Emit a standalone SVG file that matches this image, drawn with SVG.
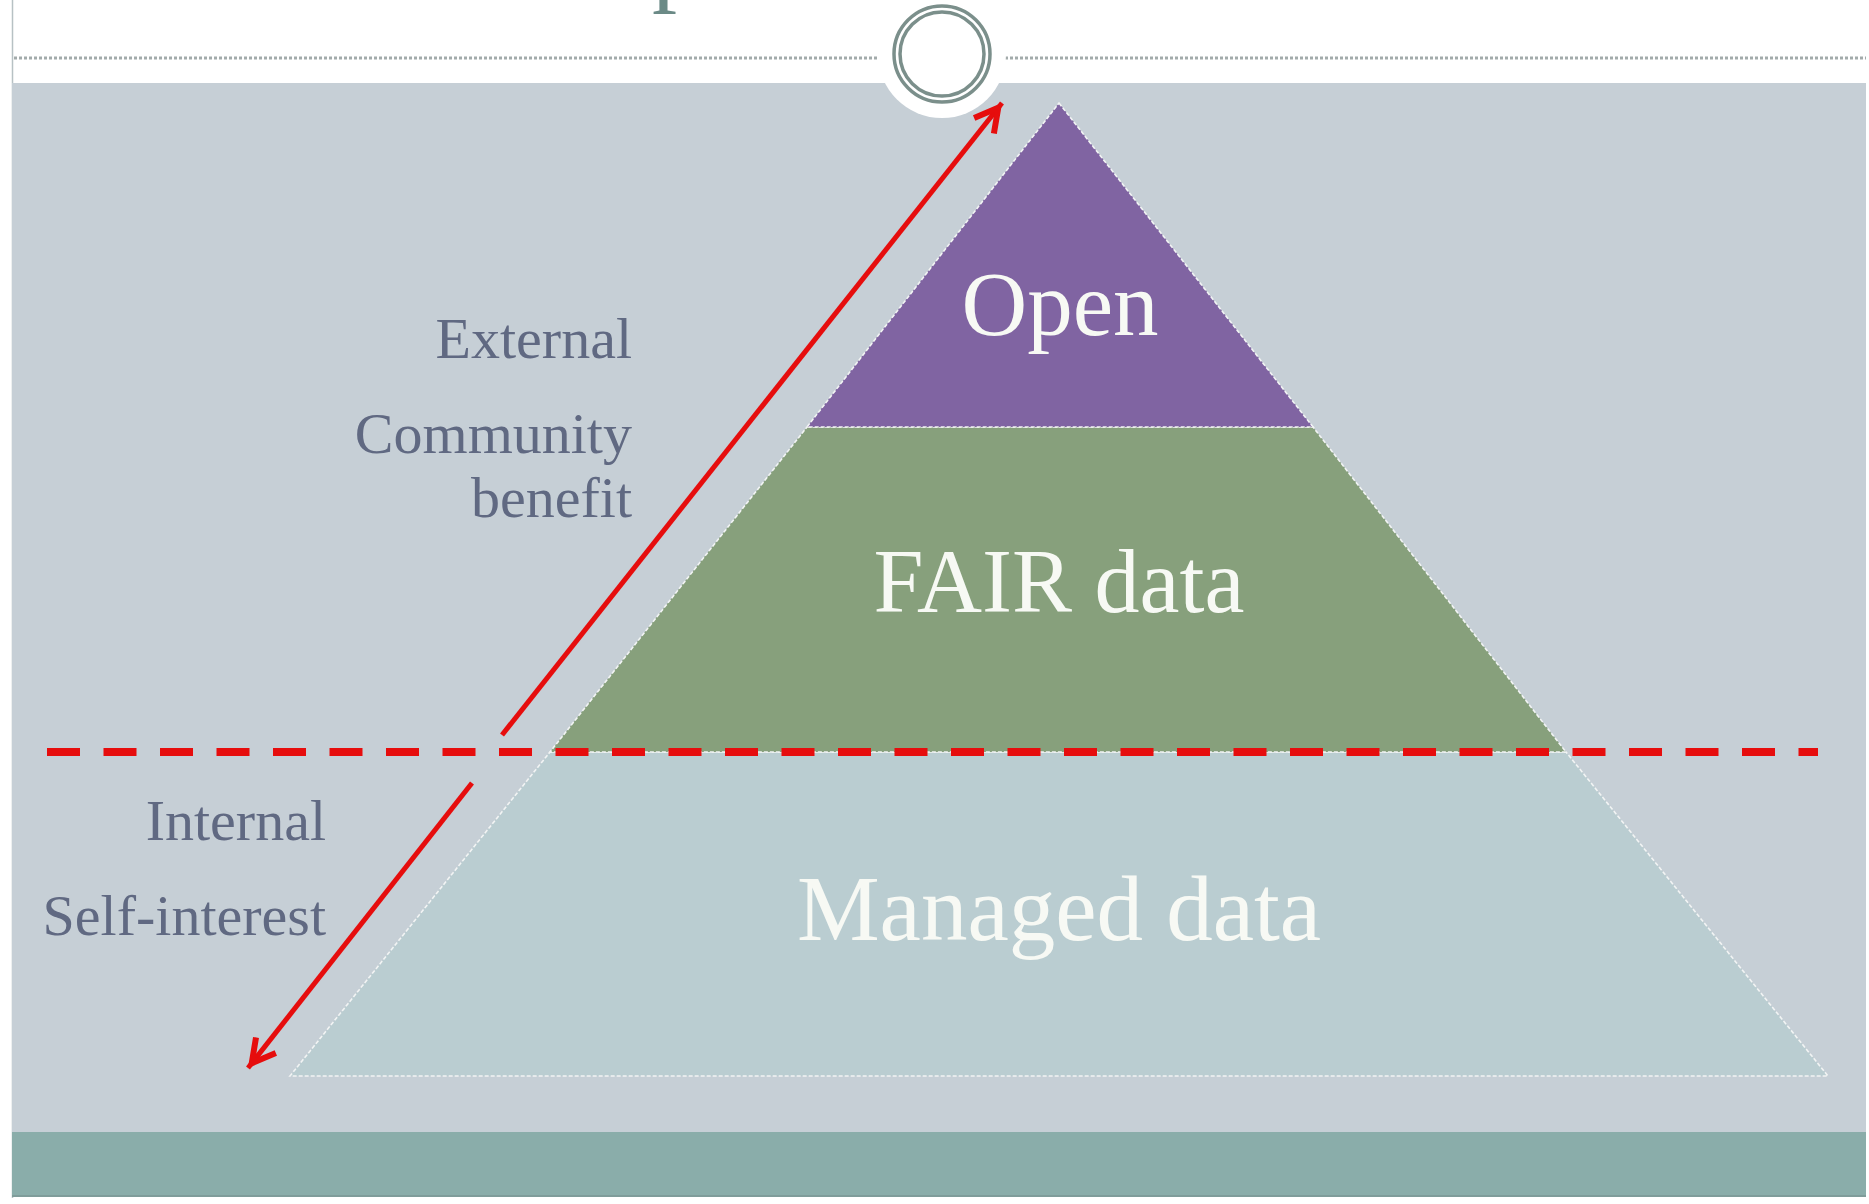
<svg xmlns="http://www.w3.org/2000/svg" width="1869" height="1204" viewBox="0 0 1869 1204">
  <style>
    .lbl { font-family: "Liberation Serif", "Times New Roman", serif; font-size: 58px; fill: #606982; text-anchor: end; }
    .tier { font-family: "Liberation Serif", "Times New Roman", serif; fill: #f7f9f4; text-anchor: middle; }
    .edge { stroke: #f2f4f4; stroke-width: 1.6; stroke-dasharray: 4 2; }
    .arrow { stroke: #e60d0d; stroke-width: 5; fill: none; }
    .rule { stroke: #a3abab; stroke-width: 3; stroke-dasharray: 3 2; }
  </style>
  <defs>
    <marker id="head" markerUnits="userSpaceOnUse" viewBox="-32 -20 44 40" markerWidth="44" markerHeight="40" refX="6" refY="0" orient="auto">
      <path d="M-23,-12.6 L0,0 L-23,12.6" fill="none" stroke="#e60d0d" stroke-width="6" stroke-linejoin="miter" stroke-miterlimit="10"/>
    </marker>
  </defs>

  <!-- page -->
  <rect x="0" y="0" width="1869" height="1204" fill="#ffffff"/>
  <text x="652" y="-7" font-family="Liberation Serif, serif" font-size="100" fill="#6b8a86">p</text>
  <line x1="12.5" y1="0" x2="12.5" y2="1198" stroke="#b7c1c4" stroke-width="1.5"/>
  <rect x="12" y="83" width="1854" height="1049" fill="#c6cfd6"/>
  <rect x="12" y="1132" width="1854" height="65" fill="#8aadaa"/>
  <line x1="12" y1="1196" x2="1866" y2="1196" stroke="#7f9c9a" stroke-width="2"/>

  <!-- header rule and ring -->
  <g id="header">
    <line class="rule" x1="14" y1="58" x2="878" y2="58"/>
    <line class="rule" x1="1005" y1="58" x2="1866" y2="58"/>
    <circle cx="942" cy="54" r="64" fill="#ffffff"/>
    <circle cx="942" cy="54" r="48" fill="none" stroke="#7b8f8b" stroke-width="3.5"/>
    <circle cx="942" cy="54" r="42" fill="none" stroke="#7b8f8b" stroke-width="3.5"/>
  </g>

  <!-- pyramid tiers -->
  <g id="managed">
    <polygon class="edge" points="550,752 1566,752 1828,1076 290,1076" fill="#bacdd1"/>
    <text class="tier" x="1059" y="940" font-size="93">Managed data</text>
  </g>
  <g id="fair">
    <polygon class="edge" points="807,427 1313,427 1566,752 550,752" fill="#87a07c"/>
    <text class="tier" x="1059" y="612" font-size="90">FAIR data</text>
  </g>
  <g id="open">
    <polygon class="edge" points="1059,103 1313,427 807,427" fill="#8064a2"/>
    <text class="tier" x="1060" y="335" font-size="91">Open</text>
  </g>

  <!-- side labels -->
  <g id="external-labels">
    <text class="lbl" x="632" y="358">External</text>
    <text class="lbl" x="632" y="453">Community</text>
    <text class="lbl" x="632" y="517">benefit</text>
  </g>
  <g id="internal-labels">
    <text class="lbl" x="326" y="840">Internal</text>
    <text class="lbl" x="326" y="935">Self-interest</text>
  </g>

  <!-- connectors -->
  <g id="connectors">
    <line x1="47" y1="752" x2="1818" y2="752" stroke="#e60d0d" stroke-width="8" stroke-dasharray="33 23.5"/>
    <line class="arrow" x1="502" y1="735" x2="1002" y2="103" marker-end="url(#head)"/>
    <line class="arrow" x1="472" y1="783" x2="248" y2="1068" marker-end="url(#head)"/>
  </g>
</svg>
